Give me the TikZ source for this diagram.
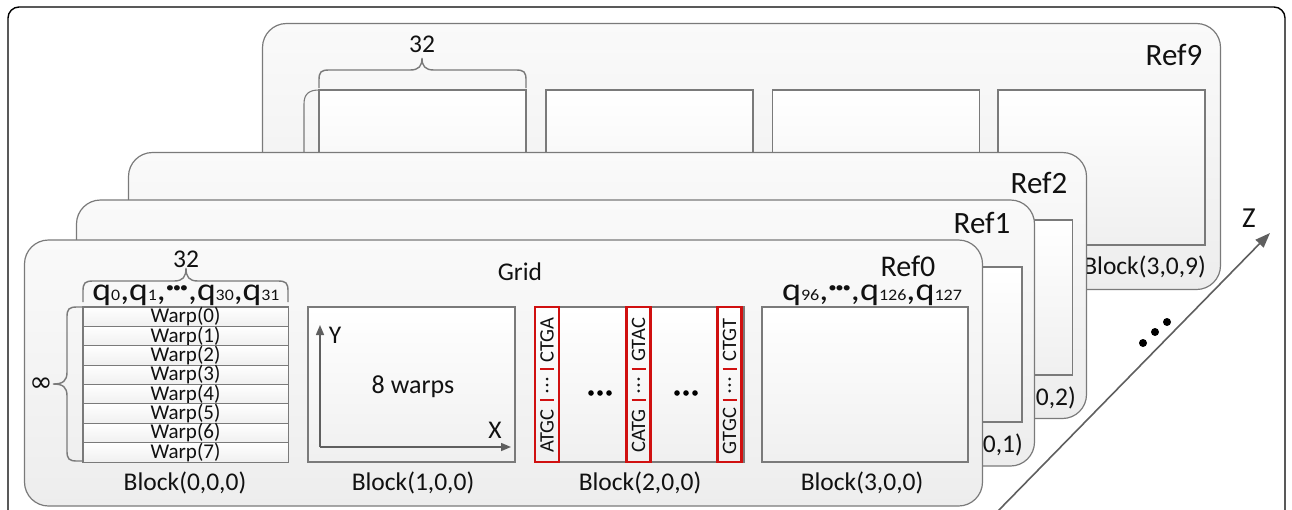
\documentclass[tikz,border=0pt]{standalone}
\usepackage{fontspec}
\setmainfont{Carlito}
\newfontfamily\symfont{DejaVu Sans}
\usetikzlibrary{arrows.meta}
\definecolor{ink}{HTML}{111111}
\definecolor{edge}{HTML}{7A7A7A}
\definecolor{axisgray}{HTML}{5F5F5F}
\definecolor{seq}{HTML}{D01010}

\newcommand\fs[1]{\fontsize{#1}{#1}\selectfont}
\newcommand\qsub[1]{{\fs{16}#1}}
\newcommand\qdots{\raisebox{7.5pt}{\fs{15}\textbullet\kern-1.2pt\textbullet\kern-1.2pt\textbullet}}

\begin{document}
\begin{tikzpicture}[x=1pt,y=-1pt,
  frame/.style={draw=black, line width=1.4pt, rounded corners=11pt},
  panel/.style={draw=edge, line width=1.2pt, rounded corners=24pt,
    top color=black!2, bottom color=black!7,
    minimum width=958pt, minimum height=266pt, inner sep=0pt},
  blk/.style={draw=edge, line width=1.1pt, top color=white, bottom color=black!6,
    minimum width=207pt, minimum height=155pt, inner sep=0pt},
  warprow/.style={draw=edge, line width=1pt, top color=white, bottom color=black!6,
    minimum width=205pt, minimum height=19.375pt, inner sep=0pt, font=\fs{21}, text=ink},
  rbox/.style={draw=seq, line width=2.2pt, minimum width=24pt, minimum height=155pt, inner sep=0pt},
  seqtxt/.style={rotate=90, font=\fs{20.5}, text=ink, inner sep=0pt},
  seqbar/.style={draw=seq, line width=1.4pt},
  lbl/.style={font=\fs{25.5}, text=ink, inner sep=0pt, anchor=base},
  reflbl/.style={font=\fs{31}, text=ink, inner sep=0pt, anchor=base},
  qlbl/.style={font=\fs{32}, text=ink, inner sep=0pt, anchor=base},
  bracepath/.style={draw=edge, line width=1.4pt},
  edgeline/.style={draw=edge, line width=1.1pt},
  axisarrow/.style={draw=axisgray, line width=1.5pt, -{Triangle[length=10pt,width=8pt]}},
  zarrow/.style={draw=axisgray, line width=1.6pt, -{Triangle[length=15pt,width=11pt]}},
  dotmark/.style={fill=black, draw=none},
]
\useasboundingbox (0,0) rectangle (1292,509);
\fill[white] (0,0) rectangle (1292,509);

% outer frame (its lower edge runs below the page)
\draw[frame] (8,7) rectangle (1285,545);

% ---------- Ref9 (back) ----------
\node[panel] (ref9) at (741.5,156.5) {};
\node[blk] (b009) at (422.5,167.5) {};
\node[blk] (b109) at (649.5,167.5) {};
\node[blk] (b209) at (876,167.5) {};
\node[blk] (b309) at (1101.5,167.5) {};
\draw[edgeline] (304,170) -- (304,104) .. controls (304,94) and (309,90) .. (319,90);
\draw[bracepath] (319,88) -- (319,80) .. controls (319,72) and (321,70) .. (329,70)
  -- (410,70) .. controls (419,70) and (422,66) .. (422,58)
  .. controls (422,66) and (425,70) .. (434,70) -- (516,70)
  .. controls (524,70) and (526,72) .. (526,80) -- (526,88);
\node[lbl] (n32b) at (422,52) {32};
\node[reflbl] (r9) at (1174,65) {Ref9};
\node[lbl, anchor=base east] (l309) at (1206,274) {Block(3,0,9)};

% ---------- Ref2 ----------
\node[panel] (ref2) at (607.5,285.5) {};
\node[blk] (b302) at (969,297.5) {};
\node[reflbl] (r2) at (1039,193) {Ref2};
\node[lbl, anchor=base east] (l302) at (1076,405) {Block(3,0,2)};

% ---------- Ref1 ----------
\node[panel] (ref1) at (555.5,333) {};
\node[blk] (b301) at (918.5,344.5) {};
\node[reflbl] (r1) at (982,233) {Ref1};
\node[lbl, anchor=base east] (l301) at (1023,452) {Block(3,0,1)};

% ---------- Ref0 (front) ----------
\node[panel] (ref0) at (503.5,373) {};
\node[reflbl, font=\fs{30}] (r0) at (908,276) {Ref0};
\node[lbl] (grid) at (520,280) {Grid};

% Block(0,0,0): eight warps of 32 queries
\node[blk, minimum width=205pt, minimum height=155pt] (b000) at (185.5,384.5) {};
\foreach \i in {0,...,7}{
  \node[warprow] (w\i) at (185.5,{316.69+19.375*\i}) {Warp(\i)};
}
\draw[bracepath] (83,302) -- (83,291) .. controls (83,283) and (85,281) .. (93,281)
  -- (174,281) .. controls (183,281) and (186,277) .. (186,268)
  .. controls (186,277) and (189,281) .. (198,281) -- (278,281)
  .. controls (286,281) and (288,283) .. (288,291) -- (288,302);
\node[lbl] (n32a) at (186,267) {32};
\node[qlbl] (qa) at (186,300) {\resizebox{187pt}{\height}{q\qsub{0},q\qsub{1},\qdots,q\qsub{30},q\qsub{31}}};
\draw[bracepath] (83,307) -- (77,307) .. controls (69,307) and (67,309) .. (67,317)
  -- (67,372) .. controls (67,381) and (63,384) .. (53,384)
  .. controls (63,384) and (67,387) .. (67,396) -- (67,451)
  .. controls (67,459) and (69,461) .. (77,461) -- (83,461);
\node[font=\symfont\fs{28}, text=ink, inner sep=0pt] (inf) at (41,385) {∞};
\node[lbl] (l000) at (185,490) {Block(0,0,0)};

% Block(1,0,0): thread layout
\node[blk] (b100) at (411.5,384.5) {};
\coordinate (o100) at (320,447);
\coordinate (y100) at (320,325);
\coordinate (x100) at (511,447);
\draw[axisarrow] (o100) -- (y100);
\draw[axisarrow] (o100) -- (x100);
\node[lbl] (ylbl) at (335,343) {Y};
\node[lbl] (xlbl) at (495,438) {X};
\node[lbl, font=\fs{26}] (warps) at (413,393) {8 warps};
\node[lbl] (l100) at (413,490) {Block(1,0,0)};

% Block(2,0,0): reference sequences per thread
\node[blk, minimum width=209pt] (b200) at (639.5,384.5) {};
\foreach \cx/\lo/\hi/\k in {547/ATGC/CTGA/1, 638.5/CATG/GTAC/2, 729.5/GTGC/CTGT/3}{
  \node[rbox] (sb\k) at (\cx,384.5) {};
  \node[seqtxt] (slo\k) at (\cx,431) {\lo};
  \node[seqtxt] (shi\k) at (\cx,340) {\hi};
  \draw[seqbar] (\cx-7,369) -- (\cx+7,369);
  \draw[seqbar] (\cx-7,400) -- (\cx+7,400);
  \foreach \yy in {379,385,391}{
    \fill[ink] (\cx,\yy) circle (1.5pt);
  }
}
\foreach \xx in {591,600,609,677,686,695}{
  \fill[dotmark] (\xx,393) circle (2.8pt);
}
\node[lbl] (l200) at (640,490) {Block(2,0,0)};

% Block(3,0,0)
\node[blk, minimum width=206pt] (b300) at (865,384.5) {};
\node[qlbl] (qb) at (872,300) {\resizebox{180pt}{\height}{q\qsub{96},\qdots,q\qsub{126},q\qsub{127}}};
\node[lbl] (l300) at (862,490) {Block(3,0,0)};

% Z axis across the reference stack
\coordinate (zs) at (997,512);
\coordinate (ze) at (1270,233);
\draw[zarrow] (zs) -- (ze);
\node[lbl, font=\fs{29}] (zlbl) at (1249,227) {Z};
\foreach \px/\py in {1143/343, 1155/332, 1167/322}{
  \fill[dotmark] (\px,\py) circle (4pt);
}
\end{tikzpicture}
\end{document}
